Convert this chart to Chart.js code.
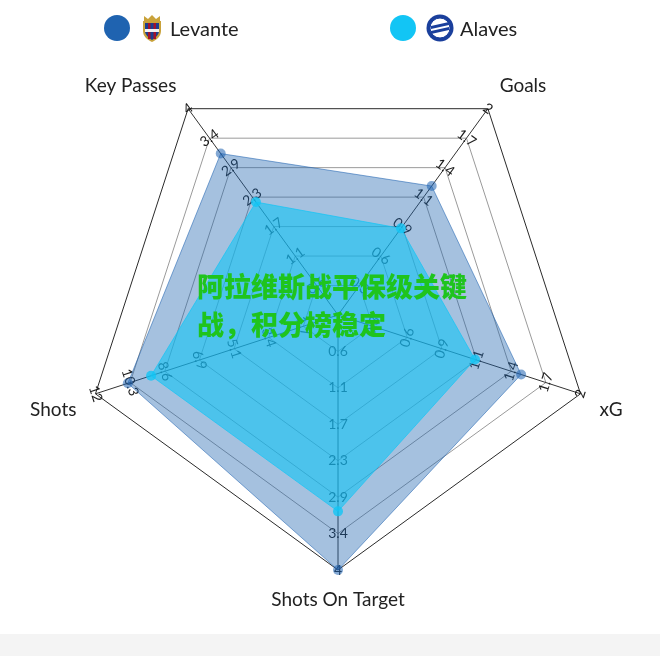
<!DOCTYPE html>
<html>
<head>
<meta charset="utf-8">
<script src="https://cdn.jsdelivr.net/npm/chart.js@4.4.1/dist/chart.umd.min.js"></script>
<style>
  body { margin: 0; background: #fff; font-family: Lato, "Noto Sans", sans-serif; }
  #wrap { position: relative; width: 660px; height: 656px; overflow: hidden; }
  #strip { position: absolute; left: 0; top: 634px; width: 660px; height: 22px; background: #f4f4f4; }
  #chart { position: absolute; left: 0; top: 0; }
  .lg { position: absolute; top: 15px; height: 26px; display: flex; align-items: center; }
  .dot { width: 26px; height: 26px; border-radius: 50%; margin-right: 10px; }
  .lg span { font-size: 20px; color: #222; margin-left: 6px; }
  #note { position: absolute; left: 197px; top: 267px; font-family: "Noto Sans CJK SC", sans-serif; font-weight: 900;
          font-size: 27px; line-height: 38px; color: #1fc41d; white-space: nowrap; }
</style>
</head>
<body>
<div id="wrap">
  <div id="strip"></div>
  <canvas id="chart" width="660" height="656"></canvas>
  <div class="lg" style="left:104px">
    <div class="dot" style="background:#1f63b0"></div>
    <svg width="24" height="30" viewBox="0 0 24 30">
      <path d="M4 3 L8 6 L12 2 L16 6 L20 3 L20 8 L4 8 Z" fill="#c9a23a"/>
      <path d="M3 8 H21 V18 C21 24 16 27 12 29 C8 27 3 24 3 18 Z" fill="#c9a23a"/>
      <path d="M5 10 H19 V18 C19 22 15 25 12 27 C9 25 5 22 5 18 Z" fill="#1b3f8f"/>
      <rect x="8" y="10" width="2.5" height="16" fill="#a4122a"/>
      <rect x="13.5" y="10" width="2.5" height="16" fill="#a4122a"/>
      <rect x="5" y="16" width="14" height="3" fill="#f2f2f2"/>
    </svg>
    <span>Levante</span>
  </div>
  <div class="lg" style="left:390px">
    <div class="dot" style="background:#12c5f5"></div>
    <svg width="28" height="28" viewBox="0 0 28 28">
      <circle cx="14" cy="14" r="13.5" fill="#1a3f9c"/>
      <circle cx="14" cy="14" r="10" fill="#fff"/>
      <path d="M5 12 L23 8 L23 11 L5 15 Z" fill="#1a3f9c"/>
      <path d="M5 17 L23 13 L23 16 L5 20 Z" fill="#1a3f9c"/>
      <circle cx="14" cy="14" r="10" fill="none" stroke="#1a3f9c" stroke-width="1"/>
    </svg>
    <span>Alaves</span>
  </div>
  <div id="note">阿拉维斯战平保级关键<br>战，积分榜稳定</div>
</div>
<script>
// axes, clockwise starting at the upper right
const categories = ['Goals', 'xG', 'Shots On Target', 'Shots', 'Key Passes'];
const axisMax = [2, 2, 4, 12, 4];

const levante = [1.25, 1.51, 4, 10.4, 3.13];
const alaves = [0.84, 1.13, 3.08, 9.25, 2.19];

// tick labels printed along each axis (7 rings)
const goalsTicks = ['0.3', '0.6', '0.9', '1.1', '1.4', '1.7', '2'];
const xgTicks = ['0.3', '0.6', '0.9', '1.1', '1.4', '1.7', '2'];
const sotTicks = ['0.6', '1.1', '1.7', '2.3', '2.9', '3.4', '4'];
const shotsTicks = ['1.7', '3.4', '5.1', '6.9', '8.6', '10.3', '12'];
const kpTicks = ['0.6', '1.1', '1.7', '2.3', '2.9', '3.4', '4'];
const axisTicks = [goalsTicks, xgTicks, sotTicks, shotsTicks, kpTicks];

const RINGS = 7;
const scaleTo = arr => arr.map((v, i) => v / axisMax[i] * RINGS);

// tick labels per axis, rotated along the spoke (drawn under the fills)
const axisTickLabels = {
    id: 'axisTickLabels',
    beforeDatasetsDraw(chart) {
        const sc = chart.scales.r;
        const ctx = chart.ctx;
        ctx.save();
        ctx.font = '14px Lato, "Noto Sans", sans-serif';
        ctx.fillStyle = '#1c1c1c';
        ctx.textAlign = 'center';
        ctx.textBaseline = 'middle';
        categories.forEach((c, i) => {
            let a = sc.getIndexAngle(i);
            if (a > Math.PI / 2 && a < Math.PI * 1.5) a -= Math.PI;
            else if (a >= Math.PI * 1.5) a -= Math.PI * 2;
            axisTicks[i].forEach((t, k) => {
                const p = sc.getPointPositionForValue(i, k + 1);
                ctx.save();
                ctx.translate(p.x, p.y);
                ctx.rotate(a);
                ctx.fillText(t, 0, 0);
                ctx.restore();
            });
        });
        ctx.restore();
    },
    afterDraw(chart) {
        const sc = chart.scales.r;
        const ctx = chart.ctx;
        ctx.save();
        ctx.font = '19px Lato, "Noto Sans", sans-serif';
        ctx.fillStyle = '#222';
        categories.forEach((c, i) => {
            const p = sc.getPointPosition(i, sc.drawingArea + 20);
            const dx = p.x - sc.xCenter, dy = p.y - sc.yCenter;
            ctx.textAlign = dx > 5 ? 'left' : (dx < -5 ? 'right' : 'center');
            ctx.textBaseline = dy < -5 ? 'bottom' : 'top';
            ctx.fillText(c, p.x, p.y + (dy < -5 ? 3 : 0));
        });
        ctx.restore();
    }
};

new Chart(document.getElementById('chart'), {
    type: 'radar',
    data: {
        labels: categories,
        datasets: [
            {
                label: 'Levante',
                order: 1,
                data: scaleTo(levante),
                backgroundColor: 'rgba(31, 99, 176, 0.4)',
                borderColor: 'rgba(31, 99, 176, 0.55)',
                borderWidth: 1,
                pointRadius: 5,
                pointBorderWidth: 0,
                pointBackgroundColor: 'rgba(31, 99, 176, 0.55)'
            },
            {
                label: 'Alaves',
                order: 0,
                data: scaleTo(alaves),
                backgroundColor: 'rgba(18, 197, 245, 0.6)',
                borderColor: 'rgba(18, 197, 245, 0.7)',
                borderWidth: 1,
                pointRadius: 5,
                pointBorderWidth: 0,
                pointBackgroundColor: 'rgba(18, 197, 245, 0.8)'
            }
        ]
    },
    options: {
        responsive: false,
        animation: false,
        layout: { padding: { left: 83, right: 67, top: 60, bottom: 86 } },
        plugins: { legend: { display: false }, tooltip: { enabled: false } },
        scales: {
            r: {
                min: 0,
                max: RINGS,
                startAngle: 36,
                ticks: { display: false, stepSize: 1 },
                pointLabels: { display: false },
                grid: {
                    color: ctx => ctx.index === RINGS ? '#2a2a2a' : '#9a9a9a',
                    lineWidth: 1
                },
                angleLines: { color: '#333', lineWidth: 1 }
            }
        }
    },
    plugins: [axisTickLabels]
});
</script>
</body>
</html>
